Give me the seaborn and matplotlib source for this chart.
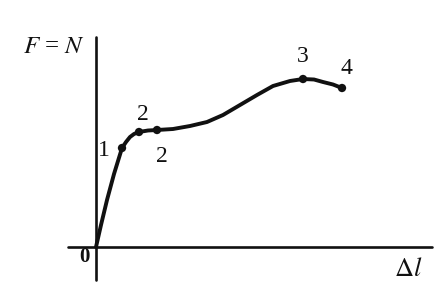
import matplotlib
matplotlib.use("Agg")
import matplotlib.pyplot as plt
import seaborn as sns
import pandas as pd

# curve samples (elongation, force)
dl = [0, 5, 11, 18, 26, 30, 34, 38, 43, 52, 61, 77, 94, 111, 127, 144, 161, 177, 194, 207, 218, 227, 237, 246]
force = [0, 22, 47, 73, 99, 105, 110, 113, 115, 116.5, 117, 118, 121, 125, 132, 142, 152, 161, 166, 168, 167.5, 165, 162.5, 159]
# marked points
pt_dl = [26, 43, 61, 207, 246]
pt_f = [99, 115, 117, 168, 159]
pt_labels = ["1", "2", "2", "3", "4"]
label_dl = [8, 47, 66, 207, 250]
label_f = [97, 132, 90, 190, 179]

sns.set_style("white")
plt.rcParams['font.family'] = ['Liberation Serif', 'DejaVu Serif']

fig = plt.figure(figsize=(4.43, 2.97), dpi=100)
ax = fig.add_axes([0, 0, 1, 1])
ax.set_xlim(-96, 347)
ax.set_ylim(-50, 247)
ax.axis("off")

# axes lines
ax.plot([-28, 336], [0, 0], color="#111111", lw=1.9)
ax.plot([0, 0], [-33, 210], color="#111111", lw=1.9)

curve = pd.DataFrame({"dl": dl, "F": force})
sns.lineplot(data=curve, x="dl", y="F", ax=ax, color="#111111", lw=2.8, sort=False)
pts = pd.DataFrame({"dl": pt_dl, "F": pt_f})
sns.scatterplot(data=pts, x="dl", y="F", ax=ax, color="#111111", s=36, edgecolor="none", zorder=5)

for t, x, y in zip(pt_labels, label_dl, label_f):
    ax.text(x, y, t, fontsize=17, ha="center", va="center", color="#111111")

ax.text(-42, 200, r"$F$ = $N$", fontsize=18, ha="center", va="center", color="#111111",
        math_fontfamily="stix")
ax.text(-12, -10, "0", fontsize=15, ha="center", va="center", color="#111111",
        fontweight="bold")
ax.text(312, -23, r"$\Delta l$", fontsize=19, ha="center", va="center", color="#111111",
        math_fontfamily="stix")
ax.set_xlabel("")
ax.set_ylabel("")

fig.savefig("out.png", dpi=100)
